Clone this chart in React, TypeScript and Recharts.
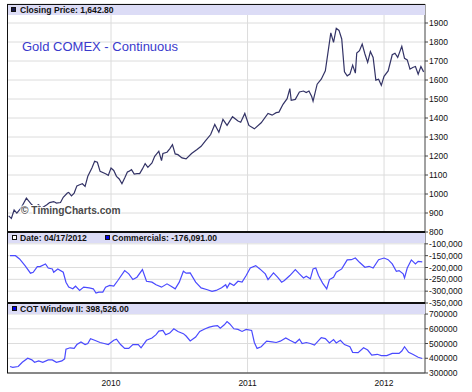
import { LineChart, Line, XAxis, YAxis, CartesianGrid, ReferenceLine } from "recharts";

// time in fractional years
const priceDates = [
  2009.25, 2009.27, 2009.29, 2009.31, 2009.34, 2009.38, 2009.42, 2009.44, 2009.47, 2009.49,
  2009.53, 2009.55, 2009.58, 2009.6, 2009.63, 2009.65, 2009.68, 2009.69, 2009.71, 2009.73,
  2009.75, 2009.77, 2009.79, 2009.81, 2009.83, 2009.86, 2009.88, 2009.9, 2009.92, 2009.96,
  2009.98, 2010.0, 2010.02, 2010.04, 2010.06, 2010.08, 2010.1, 2010.12, 2010.13, 2010.15,
  2010.17, 2010.19, 2010.21, 2010.23, 2010.25, 2010.27, 2010.3, 2010.32, 2010.35, 2010.37,
  2010.38, 2010.41, 2010.43, 2010.45, 2010.47, 2010.49, 2010.52, 2010.55, 2010.59, 2010.63,
  2010.66, 2010.69, 2010.73, 2010.76, 2010.79, 2010.82, 2010.85, 2010.89, 2010.93, 2010.95,
  2010.98, 2011.01, 2011.05, 2011.1, 2011.15, 2011.18, 2011.21, 2011.23, 2011.26, 2011.29,
  2011.31, 2011.32, 2011.35, 2011.38, 2011.41, 2011.43, 2011.45, 2011.47, 2011.48, 2011.51,
  2011.54, 2011.57, 2011.61, 2011.63, 2011.65, 2011.67, 2011.69, 2011.71, 2011.73, 2011.75,
  2011.77, 2011.79, 2011.8, 2011.82, 2011.84, 2011.86, 2011.88, 2011.9, 2011.92, 2011.94,
  2011.96, 2011.98, 2012.0, 2012.03, 2012.06, 2012.08, 2012.1, 2012.13, 2012.15, 2012.17,
  2012.19, 2012.21, 2012.23, 2012.25, 2012.27, 2012.29,
];
const priceValues = [
  885, 872, 916, 899, 925, 978, 943, 934, 943, 925,
  943, 955, 960, 952, 955, 983, 1005, 1008, 990, 1005,
  1043, 1049, 1054, 1040, 1093, 1137, 1172, 1167, 1119, 1107,
  1098, 1137, 1124, 1093, 1079, 1054, 1084, 1116, 1119, 1128,
  1105, 1107, 1107, 1132, 1160, 1140, 1163, 1198, 1225, 1176,
  1213, 1220, 1238, 1260, 1211, 1207, 1190, 1185, 1213, 1234,
  1251, 1278, 1313, 1366, 1325, 1393, 1361, 1407, 1384, 1378,
  1424, 1361, 1343, 1375, 1424, 1415, 1428, 1431, 1472, 1502,
  1555, 1493, 1498, 1537, 1542, 1534, 1542, 1513, 1489, 1578,
  1604, 1648, 1848, 1798, 1872, 1861, 1816, 1643, 1622, 1631,
  1678, 1636, 1742, 1754, 1789, 1737, 1693, 1750, 1719, 1599,
  1604, 1572, 1619, 1648, 1733, 1741, 1719, 1777, 1714, 1706,
  1657, 1666, 1671, 1631, 1671, 1642.8,
];

const commDates = [
  2009.26, 2009.3, 2009.33, 2009.37, 2009.41, 2009.43, 2009.46, 2009.48, 2009.52, 2009.54,
  2009.57, 2009.58, 2009.61, 2009.65, 2009.67, 2009.69, 2009.72, 2009.74, 2009.77, 2009.8,
  2009.84, 2009.87, 2009.89, 2009.91, 2009.94, 2009.96, 2009.99, 2010.02, 2010.05, 2010.1,
  2010.13, 2010.16, 2010.19, 2010.23, 2010.26, 2010.3, 2010.33, 2010.37, 2010.41, 2010.44,
  2010.47, 2010.5, 2010.53, 2010.55, 2010.58, 2010.62, 2010.66, 2010.7, 2010.74, 2010.77,
  2010.81, 2010.84, 2010.85, 2010.87, 2010.9, 2010.93, 2010.96, 2010.99, 2011.02, 2011.06,
  2011.09, 2011.13, 2011.15, 2011.19, 2011.22, 2011.25, 2011.27, 2011.31, 2011.35, 2011.38,
  2011.41, 2011.43, 2011.46, 2011.48, 2011.5, 2011.52, 2011.55, 2011.58, 2011.6, 2011.63,
  2011.65, 2011.69, 2011.73, 2011.76, 2011.79, 2011.82, 2011.86, 2011.89, 2011.92, 2011.96,
  2012.0, 2012.03, 2012.06, 2012.09, 2012.11, 2012.14, 2012.15, 2012.17, 2012.2, 2012.23,
  2012.25, 2012.28,
];
const commValues = [
  -150000, -150000, -164000, -192000, -224000, -220000, -196000, -196000, -185000, -202000,
  -206000, -220000, -206000, -220000, -262000, -283000, -290000, -279000, -297000, -283000,
  -286000, -290000, -308000, -304000, -304000, -283000, -276000, -279000, -255000, -213000,
  -227000, -251000, -241000, -209000, -258000, -262000, -273000, -283000, -269000, -279000,
  -290000, -262000, -216000, -224000, -223000, -262000, -286000, -293000, -301000, -297000,
  -286000, -273000, -286000, -266000, -276000, -258000, -262000, -234000, -202000, -192000,
  -206000, -227000, -251000, -223000, -241000, -262000, -255000, -234000, -209000, -227000,
  -244000, -237000, -248000, -206000, -202000, -234000, -266000, -290000, -251000, -241000,
  -220000, -206000, -168000, -167000, -160000, -178000, -199000, -195000, -202000, -167000,
  -160000, -167000, -185000, -216000, -213000, -227000, -244000, -202000, -168000, -185000,
  -174000, -176091,
];

const cotDates = [
  2009.26, 2009.28, 2009.32, 2009.35, 2009.39, 2009.42, 2009.44, 2009.47, 2009.5, 2009.54,
  2009.57, 2009.6, 2009.64, 2009.66, 2009.67, 2009.7, 2009.73, 2009.75, 2009.78, 2009.81,
  2009.83, 2009.85, 2009.88, 2009.92, 2009.95, 2009.98, 2010.02, 2010.04, 2010.07, 2010.1,
  2010.13, 2010.16, 2010.2, 2010.22, 2010.26, 2010.3, 2010.33, 2010.35, 2010.38, 2010.4,
  2010.43, 2010.46, 2010.49, 2010.53, 2010.55, 2010.58, 2010.62, 2010.65, 2010.69, 2010.72,
  2010.75, 2010.78, 2010.8, 2010.83, 2010.85, 2010.87, 2010.9, 2010.93, 2010.96, 2010.99,
  2011.03, 2011.05, 2011.07, 2011.1, 2011.14, 2011.18, 2011.21, 2011.24, 2011.28, 2011.31,
  2011.35, 2011.38, 2011.4, 2011.43, 2011.46, 2011.49, 2011.54, 2011.57, 2011.6, 2011.63,
  2011.65, 2011.68, 2011.71, 2011.75, 2011.77, 2011.81, 2011.85, 2011.88, 2011.91, 2011.95,
  2011.98, 2012.02, 2012.06, 2012.11, 2012.13, 2012.15, 2012.18, 2012.21, 2012.25, 2012.28,
];
const cotValues = [
  344000, 338000, 344000, 373000, 400000, 389000, 373000, 382000, 373000, 389000,
  389000, 373000, 382000, 396000, 462000, 471000, 467000, 493000, 511000, 493000,
  500000, 533000, 522000, 507000, 500000, 493000, 522000, 529000, 493000, 467000,
  467000, 493000, 493000, 471000, 522000, 538000, 560000, 584000, 589000, 560000,
  571000, 600000, 582000, 567000, 551000, 518000, 544000, 582000, 600000, 611000,
  618000, 622000, 604000, 627000, 649000, 633000, 600000, 596000, 582000, 596000,
  589000, 507000, 467000, 478000, 516000, 511000, 507000, 516000, 538000, 522000,
  504000, 529000, 500000, 507000, 500000, 489000, 540000, 533000, 504000, 527000,
  504000, 522000, 493000, 478000, 440000, 438000, 471000, 456000, 422000, 427000,
  418000, 418000, 433000, 433000, 449000, 478000, 440000, 427000, 407000, 398526,
];

const yearTicks = [2010, 2011, 2012];
const priceTicks = [800, 900, 1000, 1100, 1200, 1300, 1400, 1500, 1600, 1700, 1800, 1900];
const commTicks = [-350000, -300000, -250000, -200000, -150000, -100000];
const cotTicks = [300000, 400000, 500000, 600000, 700000];

const W = 472;
const H = 392;
const X_DOMAIN: [number, number] = [2009.238, 2012.3];
const FONT = "'Liberation Sans', Arial, sans-serif";
const BAND = "#dcdcf6";

const priceData = priceDates.map((t, i) => ({ t, v: priceValues[i] }));
const commData = commDates.map((t, i) => ({ t, v: commValues[i] }));
const cotData = cotDates.map((t, i) => ({ t, v: cotValues[i] }));

const tickStyle = { fontSize: 8.5, fill: "#111", fontFamily: FONT };

function Panel({
  data, top, bottom, domain, ticks, color, fmt, showX,
}: {
  data: { t: number; v: number }[];
  top: number;
  bottom: number;
  domain: [number, number];
  ticks: number[];
  color: string;
  fmt: (v: number) => string;
  showX?: boolean;
}) {
  return (
    <div style={{ position: "absolute", left: 0, top: 0 }}>
      <LineChart width={W} height={H} data={data} margin={{ top, right: 0, left: 7, bottom: showX ? 0 : H - bottom }}>
        <CartesianGrid vertical={false} stroke="#dcdcdc" />
        {yearTicks.map((y) => (
          <ReferenceLine key={y} x={y} stroke="#dcdcdc" />
        ))}
        <XAxis
          dataKey="t"
          type="number"
          domain={X_DOMAIN}
          allowDataOverflow
          ticks={yearTicks}
          hide={!showX}
          height={H - bottom}
          tickSize={0}
          tickMargin={7}
          tick={tickStyle}
          axisLine={{ stroke: "#222" }}
        />
        <YAxis
          orientation="right"
          width={W - 425}
          domain={domain}
          allowDataOverflow
          ticks={ticks}
          interval={0}
          tickFormatter={fmt}
          tick={tickStyle}
          tickSize={3}
          tickMargin={1}
          axisLine={{ stroke: "#444" }}
          tickLine={{ stroke: "#444" }}
        />
        <Line dataKey="v" type="linear" stroke={color} strokeWidth={1.2} dot={false} isAnimationActive={false} />
      </LineChart>
    </div>
  );
}

function Header({ top, children }: { top: number; children: React.ReactNode }) {
  return (
    <div
      style={{
        position: "absolute", left: 8, top, width: 417, height: 10, background: BAND,
        fontFamily: FONT, fontSize: 8.6, fontWeight: "bold", color: "#111", lineHeight: "10px",
        whiteSpace: "nowrap",
      }}
    >
      {children}
    </div>
  );
}

function Box({ left, fill }: { left: number; fill: string }) {
  return (
    <span
      style={{
        position: "absolute", left, top: 2, width: 5, height: 5,
        background: fill, border: "0.5px solid #111", boxSizing: "border-box",
      }}
    />
  );
}

export default function App() {
  return (
    <div style={{ position: "absolute", left: 0, top: 0, width: W, height: H, background: "#fff", overflow: "hidden" }}>
      <Panel data={priceData} top={4} bottom={232} domain={[800, 2000]} ticks={priceTicks} color="#333366" fmt={(v) => String(v)} />
      <Panel data={commData} top={232} bottom={303} domain={[-350000, -50000]} ticks={commTicks} color="#4a4aff" fmt={(v) => v.toLocaleString("en-US")} />
      <Panel data={cotData} top={303} bottom={373} domain={[300000, 775000]} ticks={cotTicks} color="#4a4aff" fmt={(v) => String(v)} showX />

      {/* frame */}
      <div style={{ position: "absolute", left: 7, top: 4, width: 418, height: 1, background: "#111" }} />
      <div style={{ position: "absolute", left: 7, top: 4, width: 1, height: 369, background: "#111" }} />
      <div style={{ position: "absolute", left: 7, top: 231, width: 418, height: 2, background: "#111" }} />
      <div style={{ position: "absolute", left: 7, top: 302, width: 418, height: 2, background: "#111" }} />

      <Header top={5}>
        <Box left={3} fill="#1a1a4a" />
        <span style={{ position: "absolute", left: 12 }}>Closing Price: 1,642.80</span>
      </Header>
      <Header top={233}>
        <Box left={4} fill="#fff" />
        <span style={{ position: "absolute", left: 12 }}>Date: 04/17/2012</span>
        <Box left={97} fill="#0000ee" />
        <span style={{ position: "absolute", left: 104 }}>Commercials: -176,091.00</span>
      </Header>
      <Header top={304}>
        <Box left={4} fill="#0000ee" />
        <span style={{ position: "absolute", left: 12 }}>COT Window II: 398,526.00</span>
      </Header>

      <div style={{ position: "absolute", left: 22, top: 39, fontFamily: FONT, fontSize: 13, color: "#3a3acc", whiteSpace: "nowrap" }}>
        Gold COMEX - Continuous
      </div>
      <div
        style={{
          position: "absolute", left: 21, top: 205, fontFamily: FONT, fontSize: 10.2, fontWeight: "bold",
          color: "#4a4a4a", whiteSpace: "nowrap", textShadow: "1px 1px 0 #fff, -1px -1px 0 #fff, 1px -1px 0 #fff, -1px 1px 0 #fff",
        }}
      >
        © TimingCharts.com
      </div>
    </div>
  );
}
